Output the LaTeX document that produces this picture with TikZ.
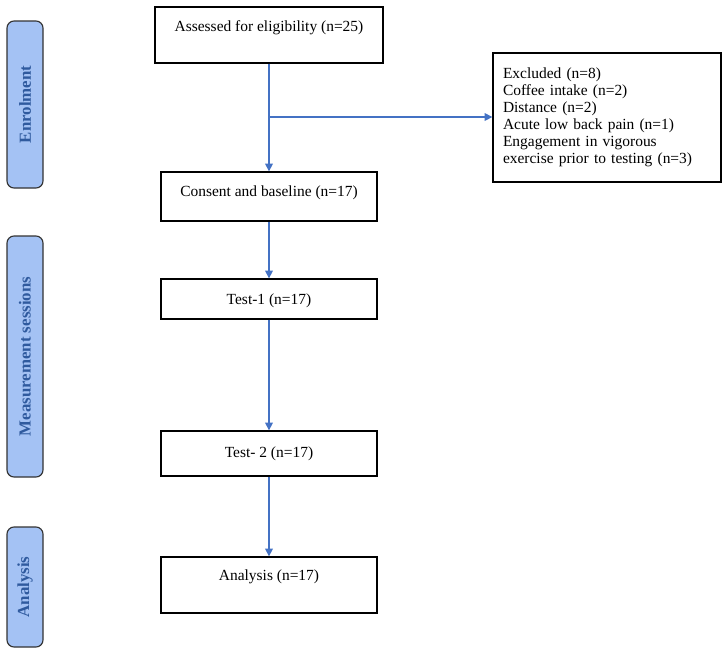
\documentclass[tikz,border=0pt]{standalone}
\usepackage{fontspec}
\setmainfont{Liberation Serif}
\usetikzlibrary{arrows.meta,positioning,calc}
\definecolor{sidefill}{HTML}{A4C2F4}
\definecolor{sidetext}{HTML}{2F5A9E}
\definecolor{flow}{HTML}{4472C4}

\begin{document}
\begin{tikzpicture}[
    blk/.style={draw, line width=0.9pt, inner sep=0pt, minimum width=5.4cm, font=\fontsize{11}{12.2}\selectfont},
    exbox/.style={draw, line width=0.9pt, inner sep=0.25cm, text width=5.2cm, minimum height=3.225cm, align=left, font=\fontsize{11}{12.1}\selectfont},
    stage/.style={draw=black!80, line width=0.8pt, rounded corners=5pt, fill=sidefill, rotate=90, minimum height=0.9cm, inner sep=0pt, text=sidetext, font=\fontsize{12}{14}\selectfont\bfseries},
    arr/.style={-{Triangle[length=5.5pt,width=5.5pt]}, flow, line width=0.75pt}
]
\useasboundingbox (0,0) rectangle (18.15,-16.275);

% phases on the left
\node[stage, minimum width=4.175cm] (enrol) at (0.625,-2.6125) {Enrolment};
\node[stage, minimum width=6.025cm] (meas) at (0.625,-8.9125) {Measurement sessions};
\node[stage, minimum width=3.0cm] (anal) at (0.625,-14.675) {Analysis};

% flow
\node[blk, minimum width=5.7cm, text height=0.6cm, text depth=0.8cm] (assess) at (6.725,-0.875) {Assessed for eligibility (n=25)};
\node[exbox] (excl) at (15.175,-2.9375) {Excluded (n=8)\\Coffee intake (n=2)\\Distance (n=2)\\Acute low back pain (n=1)\\Engagement in vigorous\\exercise prior to testing (n=3)};
\node[blk, text height=0.6cm, text depth=0.625cm] (consent) at (6.725,-4.9125) {Consent and baseline (n=17)};
\node[blk, text height=0.625cm, text depth=0.375cm] (test1) at (6.725,-7.475) {Test-1 (n=17)};
\node[blk, text height=0.65cm, text depth=0.475cm] (test2) at (6.725,-11.3375) {Test- 2 (n=17)};
\node[blk, text height=0.575cm, text depth=0.825cm] (result) at (6.725,-14.625) {Analysis (n=17)};

\coordinate (br) at (6.725,-2.925);

\draw[arr] (assess) -- (consent);
\draw[arr] (br) -- (br -| excl.west);
\draw[arr] (consent) -- (test1);
\draw[arr] (test1) -- (test2);
\draw[arr] (test2) -- (result);
\end{tikzpicture}
\end{document}
